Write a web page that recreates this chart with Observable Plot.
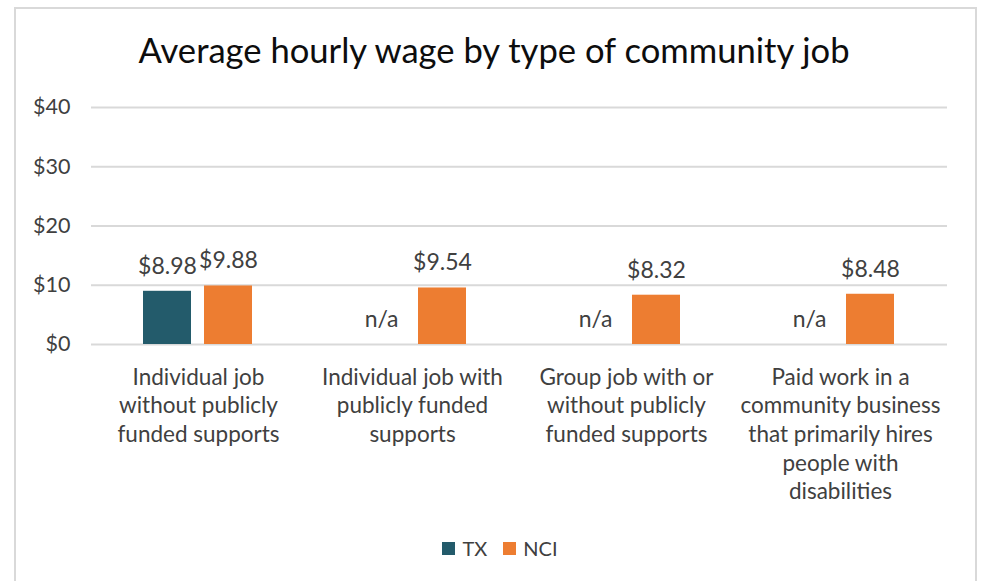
<!DOCTYPE html>
<html>
<head>
<meta charset="utf-8">
<script src="https://cdn.jsdelivr.net/npm/d3@7"></script>
<script src="https://cdn.jsdelivr.net/npm/@observablehq/plot@0.6"></script>
<style>
  html, body { margin: 0; padding: 0; background: #fff; }
  #wrap { position: relative; width: 982px; height: 581px; overflow: hidden; font-family: Lato, "Open Sans", sans-serif; }
  #frame { position: absolute; left: 14px; top: 7px; width: 963px; height: 600px; border: 2px solid #d9d9d9; box-sizing: border-box; }
  #title { position: absolute; left: 0; width: 988px; top: 30px; text-align: center; font-size: 34.6px; color: #0d0d0d; line-height: 40px; }
  #chart { position: absolute; left: 0; top: 0; }
  #legend { position: absolute; left: 0; width: 1000px; top: 536px; display: flex; justify-content: center; gap: 16px; font-size: 20px; color: #404040; }
  .item { display: flex; align-items: center; gap: 7px; }
  .sw { width: 13px; height: 13px; display: inline-block; }
</style>
</head>
<body>
<div id="wrap">
  <div id="frame"></div>
  <div id="title">Average hourly wage by type of community job</div>
  <div id="chart"></div>
  <div id="legend"></div>
</div>
<script>
const categories = [
  "Individual job\nwithout publicly\nfunded supports",
  "Individual job with\npublicly funded\nsupports",
  "Group job with or\nwithout publicly\nfunded supports",
  "Paid work in a\ncommunity business\nthat primarily hires\npeople with\ndisabilities"
];
const series = ["TX", "NCI"];
const colors = ["#235b6b", "#ed7d31"];
const txValues = [8.98, null, null, null];
const nciValues = [9.88, 9.54, 8.32, 8.48];
const yTicks = [0, 10, 20, 30, 40];

const data = [];
categories.forEach((c, i) => {
  data.push({cat: c, series: "TX", value: txValues[i] == null ? 0 : txValues[i], label: txValues[i] == null ? "n/a" : "$" + txValues[i].toFixed(2)});
  data.push({cat: c, series: "NCI", value: nciValues[i] == null ? 0 : nciValues[i], label: nciValues[i] == null ? "n/a" : "$" + nciValues[i].toFixed(2)});
});

const chart = Plot.plot({
  width: 982,
  height: 520,
  marginLeft: 91,
  marginRight: 35,
  marginTop: 107,
  marginBottom: 176,
  style: {fontFamily: "Lato, 'Open Sans', sans-serif", background: "transparent", overflow: "visible"},
  fx: {domain: categories, padding: 0, axis: null},
  x: {domain: series, paddingInner: 0.213, paddingOuter: 0.86, axis: null},
  y: {domain: [0, 40], ticks: yTicks, axis: null},
  color: {domain: series, range: colors},
  marks: [
    Plot.gridY(yTicks, {stroke: "#d9d9d9", strokeOpacity: 1, strokeWidth: 2}),
    Plot.axisY(yTicks, {tickSize: 0, tickPadding: 21, tickFormat: d => "$" + d, fontSize: 21.5, fill: "#404040", label: null}),
    Plot.barY(data.filter(d => d.label !== "n/a"), {fx: "cat", x: "series", y: "value", fill: "series"}),
    Plot.text(data, {fx: "cat", x: "series", y: "value", text: "label", dy: -25, fontSize: 23, fill: "#404040"}),
    Plot.text(categories, {fx: d => d, text: d => d, frameAnchor: "bottom", lineAnchor: "top", dy: 20, fontSize: 22.5, lineHeight: 1.27, fill: "#404040"})
  ]
});
document.getElementById("chart").appendChild(chart);

const legend = document.getElementById("legend");
series.forEach((s, i) => {
  const item = document.createElement("span");
  item.className = "item";
  const sw = document.createElement("span");
  sw.className = "sw";
  sw.style.background = colors[i];
  item.appendChild(sw);
  item.appendChild(document.createTextNode(s));
  legend.appendChild(item);
});
</script>
</body>
</html>
